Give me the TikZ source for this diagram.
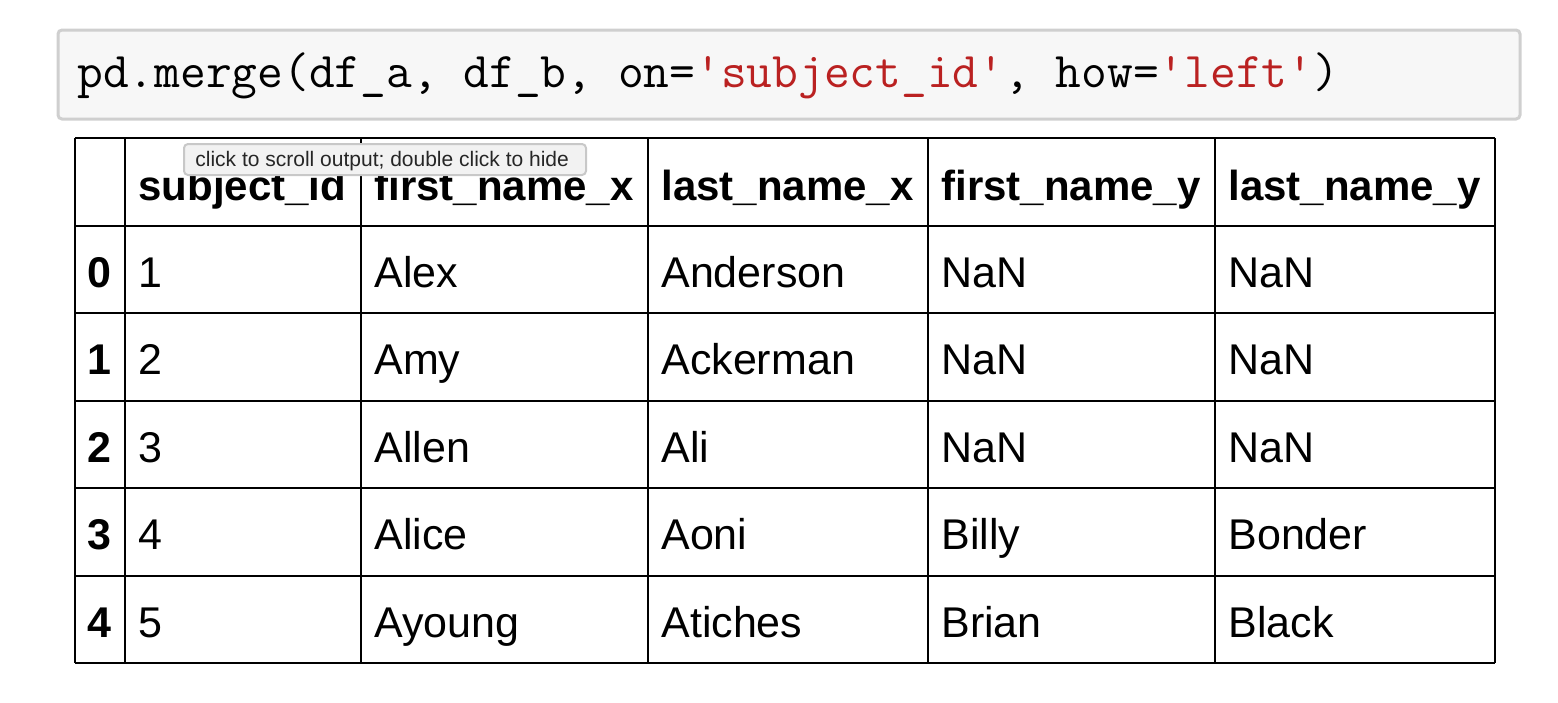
\documentclass[tikz,border=0pt]{standalone}
\usepackage{fontspec}
\setmainfont{Liberation Sans}
\definecolor{codebg}{HTML}{F7F7F7}
\definecolor{codeline}{HTML}{CFCFCF}
\definecolor{strred}{HTML}{BA2121}
\definecolor{tipbg}{HTML}{F2F2F2}
\definecolor{tipline}{HTML}{C8C8C8}
\begin{document}
\begin{tikzpicture}[x=0.5pt,y=-0.5pt]

    \tikzset{
      cell/.style={
        anchor=base west,
        inner sep=0pt,
        font=\fontsize{21.5}{24}\selectfont,
      },
      head/.style={
        cell,
        font=\fontsize{21}{24}\selectfont\bfseries,
      },
      idx/.style={
        anchor=base,
        inner sep=0pt,
        font=\fontsize{21.5}{24}\selectfont\bfseries,
      },
    }
    \useasboundingbox (0,0) rectangle (1558,702);
    % code cell
    \draw[codeline, fill=codebg, line width=1.5, rounded corners=2] (58,30) rectangle (1520,119);
    \node[anchor=base west, inner sep=0pt, font=\fontsize{25}{27}\ttfamily] (code) at (77,87)
      {pd.merge(df\_a, df\_b, on=\textcolor{strred}{'subject\_id'}, how=\textcolor{strred}{'left'})};
    % table grid
    \foreach \x in {75,125,361,648,928,1215,1495}
      \draw[line width=1.3] (\x,138) -- (\x,663);
    \foreach \y in {138,226,313,401,488,576,663}
      \draw[line width=1.3] (75,\y) -- (1495,\y);
    % header
    \foreach \name [count=\c] in {subject\_id,first\_name\_x,last\_name\_x,first\_name\_y,last\_name\_y}
      \node[head] (h-\c) at ({\ifcase\c\or 138\or 374\or 661\or 941\or 1228\fi},200) {\name};
    % rows
    \foreach \r/\id/\fx/\lx/\fy/\ly in {0/1/Alex/Anderson/NaN/NaN,
                                         1/2/Amy/Ackerman/NaN/NaN,
                                         2/3/Allen/Ali/NaN/NaN,
                                         3/4/Alice/Aoni/Billy/Bonder,
                                         4/5/Ayoung/Atiches/Brian/Black}{
      \node[idx] (i-\r) at (99,287+87.5*\r) {\r};
      \node[cell] (c-\r-1) at (138,287+87.5*\r) {\id};
      \node[cell] (c-\r-2) at (374,287+87.5*\r) {\fx};
      \node[cell] (c-\r-3) at (661,287+87.5*\r) {\lx};
      \node[cell] (c-\r-4) at (941,287+87.5*\r) {\fy};
      \node[cell] (c-\r-5) at (1228,287+87.5*\r) {\ly};
    }
    % tooltip
    \draw[tipline, fill=tipbg, line width=1, rounded corners=2] (184,144) rectangle (586,175);
    \node[anchor=base west, inner sep=0pt, font=\fontsize{10.5}{12}\selectfont, text=black!85] (tip) at (195,166)
      {click to scroll output; double click to hide};

\end{tikzpicture}
\end{document}
